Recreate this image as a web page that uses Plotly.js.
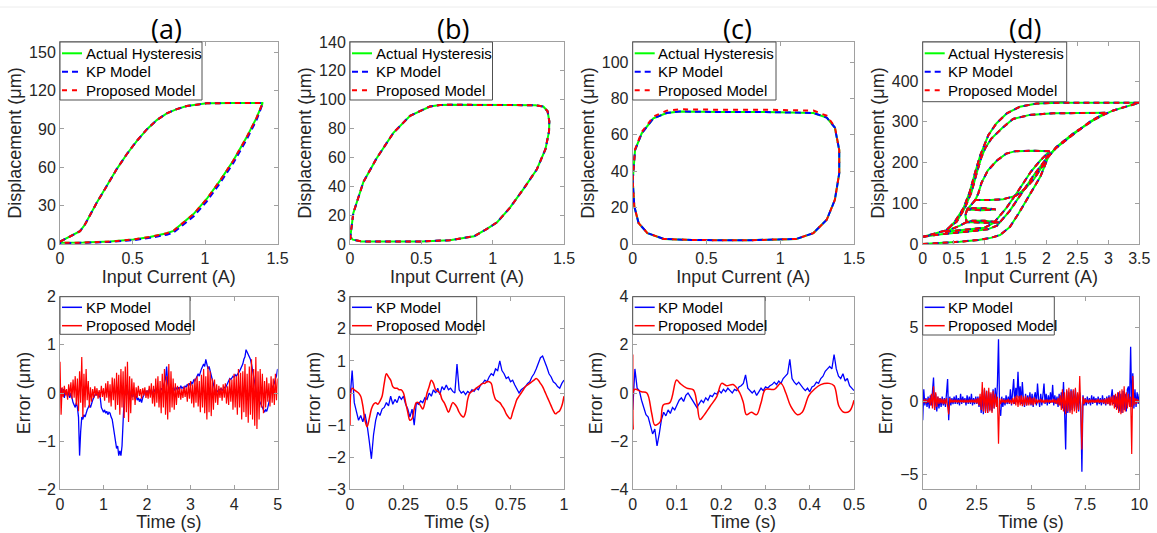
<!DOCTYPE html>
<html><head><meta charset="utf-8">
<script src="https://cdn.plot.ly/plotly-3.0.1.min.js"></script>
<style>html,body{margin:0;padding:0;background:#fff}#plot{width:1157px;height:533px}</style>
</head><body><div id="plot"></div>
<script>
// ---------- Panel (a) hysteresis ----------
const aX = [0,0.046,0.103,0.138,0.172,0.207,0.253,0.322,0.39,0.46,0.53,0.6,0.667,0.736,0.805,0.874,0.943,1.01,1.2,1.395,
  1.395,1.356,1.287,1.195,1.103,1.011,0.92,0.839,0.782,0.736,0.62,0.506,0.345,0.161,0];
const aY = [1.8,4.4,7.5,10,15.2,23,32.2,45.3,58.4,70.2,80.7,89.8,96.9,102.2,105.5,107.9,109.2,110,110.3,110.3,
  109.7,99,83.6,65.3,49.6,35.2,23.4,15.5,10.3,8.4,5.5,3.5,1.9,1.1,0.9];
const aKpY = [1.8,4.4,7.5,10,15.2,23,32.2,45.3,58.4,70.2,80.7,89.8,96.9,102.2,105.5,107.9,109.2,110,110.3,110.3,
  109.2,97.3,81.8,63.4,47.6,33.2,21.5,13.8,8.9,7.3,4.8,3.0,1.6,0.9,0.7];
// ---------- Panel (b) hysteresis ----------
const bX = [0.0,0.004,0.023,0.094,0.187,0.304,0.421,0.56,0.63,0.7,1.0,1.215,1.3,1.355,1.385,1.397,1.395,1.37,1.31,1.215,1.12,1.03,0.96,0.87,0.7,0.5,0.28,0.08,0.02,0.0];
const bY = [3,6.6,21.3,43,59.5,77,88.9,95.3,96.3,96.5,96.5,96.5,96.2,95.3,92,85,78,65.7,51.8,38,25,15,10.5,5.4,2.6,1.8,1.6,1.8,3,5];
// ---------- Panel (c) hysteresis ----------
const cX = [0,0.016,0.061,0.14,0.23,0.32,0.6,0.9,1.225,1.315,1.37,1.4,1.4,1.37,1.315,1.225,1.11,0.77,0.4,0.21,0.1,0.04,0.011,0,0];
const cY = [35,51.6,60.8,69,72,72.8,72.5,72.5,72,69.5,64,51.6,38.8,24.2,13.3,6,2.8,2,2.2,2.8,6,11.5,20.6,31,35];
const cPropY = [35,52,61.5,70,73.3,74,73.8,73.8,73.3,70.5,64.5,51.6,38.8,24.2,13.3,6,2.8,2,2.2,2.8,6,11.5,20.6,31,35];
// ---------- Panel (d) hysteresis (segments separated by null) ----------
const dX = [0,0.3,0.6,0.9,1.1,1.25,1.41,1.55,1.68,1.8,1.9,2.03,2.16,2.3,2.43,2.6,2.76,2.92,3.08,3.3,3.5,null,
  3.5,3.48,2.97,2.22,1.84,1.57,1.36,1.19,1.06,0.98,0.93,0.85,0.76,0.66,0.52,0.39,0.17,0.01,null,
  0.01,0.3,0.7,1.05,1.2,1.4,1.6,1.8,2.0,2.15,2.4,2.7,2.95,null,
  2.95,2.65,2.11,1.73,1.46,1.28,1.11,1.01,0.95,0.87,0.79,0.68,0.55,0.41,0.36,null,
  0.36,0.7,1.0,1.15,1.35,1.55,1.75,1.9,2.05,null,
  2.05,1.8,1.5,1.35,1.2,1.05,0.95,0.9,0.85,1.1,1.3,1.5,1.65,1.8,1.95,2.05,null,
  0.85,0.8,0.72,0.95,1.18,1.0,0.8,0.72,0.69,0.71,1.0,1.25,1.0,0.8,0.71,0.6,0.45,0.36];
const dY = [0,2,5.7,10,15,22,42,75,108,138,165,214,238,255,271,288,304,317,328,338,347,null,
  347,347,347,347,345,337,321,296,267,239,218,177,128,88,55,34,24,18,null,
  18,24,30,36,45,80,125,170,210,235,265,300,322,null,
  322,322,321,317,307,284,259,235,214,173,128,88,55,38,30,null,
  30,35,40,52,88,132,178,205,228,null,
  228,229,228,222,205,180,150,125,108,108,110,118,135,160,195,228,null,
  108,100,85,83,85,88,88,86,70,54,52,53,57,57,54,45,36,30];

// ---------- Error signals ----------
// (a) sampled every 0.025 s from 0 to 5 s
const errA_kp = [0.0,0.1,-0.05,0.08,-0.1,0.05,0.0,-0.08,0.05,-0.1,0.0,-0.15,-0.2,-0.25,-0.3,-0.2,-0.3,-0.5,-1.3,-0.8,
 -0.5,-0.55,-0.45,-0.5,-0.4,-0.35,-0.3,-0.25,-0.3,-0.2,-0.15,-0.1,-0.05,0.0,-0.05,0.02,-0.05,-0.1,-0.3,-0.35,
 -0.4,-0.35,-0.42,-0.38,-0.45,-0.4,-0.42,-0.5,-0.55,-0.7,-0.9,-1.0,-1.15,-1.1,-1.3,-1.2,-1.3,-1.1,-0.6,-0.1,
 0.05,-0.05,0.08,-0.05,0.05,-0.1,0.0,-0.08,0.05,-0.12,-0.05,-0.15,-0.1,-0.18,-0.12,-0.2,-0.1,-0.05,0.05,-0.02,
 0.05,-0.05,0.08,0.0,0.05,-0.05,0.08,0.02,0.1,0.0,0.08,-0.05,0.05,0.1,0.05,0.15,0.2,0.3,0.55,0.2,
 0.1,0.05,0.12,0.08,0.1,0.05,0.12,0.1,0.05,0.12,0.08,0.15,0.1,0.12,0.08,0.15,0.12,0.18,0.15,0.2,
 0.15,0.22,0.2,0.28,0.25,0.3,0.35,0.4,0.35,0.45,0.5,0.55,0.6,0.55,0.7,0.6,0.5,0.55,0.45,0.4,
 0.3,0.15,0.05,0.0,0.05,0.02,0.08,0.05,0.1,0.05,0.08,0.12,0.1,0.15,0.2,0.25,0.3,0.28,0.32,0.35,
 0.33,0.38,0.35,0.4,0.42,0.45,0.5,0.55,0.6,0.7,0.75,0.9,0.85,0.8,0.75,0.7,0.6,0.45,0.3,0.15,
 0.05,-0.05,-0.1,-0.15,-0.2,-0.25,-0.3,-0.35,-0.4,-0.35,-0.38,-0.3,-0.2,-0.1,0.05,0.1,0.15,0.2,0.3,0.35,0.5];
const errA_prop = [0.65,-0.45,0.12,-0.08,0.15,-0.05,0.08,-0.14,0.18,-0.06,0.22,-0.12,0.28,-0.1,0.35,-0.25,0.3,-0.38,0.45,-0.2,
 0.75,-0.5,0.4,-0.3,0.5,-0.15,0.25,-0.3,0.12,-0.18,0.08,-0.1,0.14,-0.06,0.1,-0.12,0.06,-0.1,0.15,-0.08,
 0.1,-0.16,0.2,-0.1,0.25,-0.2,0.18,-0.28,0.32,-0.15,0.3,-0.35,0.42,-0.25,0.38,-0.45,0.5,-0.3,0.45,-0.52,
 0.55,-0.4,0.65,-0.6,0.35,-0.42,0.3,-0.15,0.22,-0.25,0.12,-0.1,0.15,-0.06,0.08,-0.12,0.1,-0.05,0.12,-0.1,
 0.06,-0.12,0.15,-0.1,0.2,-0.22,0.15,-0.28,0.3,-0.2,0.35,-0.3,0.25,-0.42,0.4,-0.3,0.5,-0.45,0.35,-0.55,
 0.6,-0.4,0.45,-0.3,0.3,-0.35,0.2,-0.25,0.15,-0.1,0.12,-0.14,0.08,-0.1,0.14,-0.08,0.12,-0.18,0.2,-0.12,
 0.25,-0.22,0.18,-0.3,0.3,-0.2,0.35,-0.28,0.25,-0.4,0.38,-0.3,0.5,-0.42,0.35,-0.55,0.55,-0.4,0.45,-0.48,
 0.3,-0.35,0.28,-0.2,0.18,-0.25,0.15,-0.1,0.12,-0.16,0.18,-0.1,0.2,-0.22,0.14,-0.25,0.3,-0.18,0.28,-0.35,
 0.4,-0.3,0.35,-0.45,0.5,-0.3,0.42,-0.55,0.45,-0.4,0.6,-0.5,0.4,-0.62,0.55,-0.45,0.7,-0.55,0.5,-0.68,
 0.75,-0.75,0.45,-0.55,0.5,-0.3,0.4,-0.42,0.25,-0.3,0.32,-0.18,0.2,-0.28,0.35,-0.2,0.3,-0.25,0.4,-0.15,0.3];
// (b) sampled every 0.01 s from 0 to 1 s
const errB_kp = [-0.2,0.7,-0.3,-0.6,-0.85,-0.7,-0.9,-0.65,-1.0,-1.5,-2.05,-1.3,-0.85,-0.6,-0.7,-0.5,-0.45,-0.3,-0.4,-0.1,
 -0.35,-0.2,-0.3,-0.1,-0.2,-0.1,-0.35,-0.5,-0.75,-0.5,-1.0,-0.3,-0.35,-0.25,-0.3,-0.15,-0.2,0.0,-0.1,0.1,
 0.0,0.15,-0.05,0.2,0.1,0.25,0.1,0.15,0.05,0.0,0.9,0.1,0.0,0.05,-0.05,0.05,0.0,0.1,0.05,0.15,
 0.1,0.25,0.3,0.4,0.35,0.5,0.6,0.55,0.75,0.7,1.0,0.7,0.6,0.45,0.5,0.35,0.4,0.25,0.1,0.0,
 0.1,0.15,0.2,0.3,0.35,0.5,0.6,0.75,0.95,1.1,1.15,1.0,0.8,0.6,0.5,0.35,0.3,0.2,0.15,0.3,0.4];
const errB_prop = [-1.0,0.15,0.1,0.05,0.0,-0.1,-0.4,-0.85,-1.05,-0.8,-0.5,-0.35,-0.3,-0.35,-0.25,-0.1,0.3,0.6,0.5,0.4,
 0.2,0.15,0.15,0.1,0.1,0.0,-0.3,-0.6,-0.85,-0.8,-0.5,-0.3,-0.3,-0.4,-0.5,-0.3,0.0,0.2,0.4,0.3,
 0.1,0.05,0.0,-0.2,-0.3,-0.45,-0.6,-0.45,-0.3,-0.35,-0.45,-0.6,-0.7,-0.75,-0.6,-0.2,0.0,0.05,0.1,0.15,
 0.2,0.25,0.3,0.3,0.35,0.35,0.3,0.0,-0.2,-0.25,-0.3,-0.4,-0.5,-0.65,-0.75,-0.8,-0.6,-0.4,-0.2,-0.1,
 0.0,0.1,0.2,0.25,0.3,0.35,0.4,0.45,0.4,0.3,0.2,0.05,-0.1,-0.25,-0.4,-0.55,-0.65,-0.6,-0.55,-0.4,-0.1];
// (c) KP sampled every 0.005 s; proposed read at points
const errC_kp = [-0.7,1.0,0.2,0.1,-0.3,-0.6,-0.9,-1.0,-1.3,-1.7,-1.5,-2.2,-1.7,-1.1,-0.8,-0.95,-0.7,-0.85,-0.6,-0.7,
 -0.5,-0.3,-0.2,-0.35,-0.1,0.0,-0.15,-0.3,-0.5,-0.6,-0.45,-0.3,-0.4,-0.2,-0.3,-0.1,-0.15,0.0,-0.05,0.1,
 0.0,0.15,0.05,0.2,0.1,0.0,0.15,0.1,0.25,0.3,0.4,0.75,0.2,0.1,0.0,0.1,-0.1,0.05,0.2,0.1,
 0.25,0.2,0.3,0.35,0.45,0.35,0.5,0.4,0.6,0.7,0.8,1.4,0.6,0.45,0.35,0.45,0.3,0.2,0.1,0.2,
 0.05,0.25,0.3,0.45,0.4,0.6,0.7,0.9,1.0,1.1,1.0,1.6,1.0,0.7,0.6,0.8,0.5,0.6,0.3,0.2,0.1];
const tC_prop = [0,0.001,0.004,0.02,0.032,0.043,0.05,0.062,0.069,0.084,0.099,0.107,0.122,0.137,0.145,0.152,0.16,0.175,0.19,0.201,0.212,0.227,0.242,0.25,0.257,0.268,0.28,0.29,0.3,0.32,0.335,0.346,0.357,0.372,0.383,0.398,0.41,0.425,0.444,0.455,0.466,0.477,0.49,0.5];
const errC_prop = [1.6,-1.5,0.15,0.05,0.0,-0.85,-1.33,-1.2,-0.5,-0.4,0.54,0.4,0.2,0.13,-0.4,-1.1,-0.95,-0.55,-0.15,0.4,0.3,0.35,0.0,-0.4,-0.9,-0.8,-0.9,-0.4,0.15,0.15,0.4,0.0,-0.55,-0.9,-0.8,-0.1,0.15,0.35,0.4,0.3,-0.55,-0.8,-0.75,-0.3];
// (d) sampled every 0.05 s from 0 to 10 s
const errD_kp = [-1.3,0.8,-0.3,0.2,-0.4,0.3,-0.5,0.4,-0.3,0.9,1.6,-0.6,0.5,-0.7,0.3,-0.5,0.2,-0.4,0.3,-0.3,
 0.2,-0.4,0.5,1.5,-1.3,0.3,-0.3,0.2,-0.2,0.3,-0.2,0.4,-0.2,0.2,-0.3,0.5,-0.2,0.3,-0.1,0.2,
 -0.3,0.4,-0.2,0.3,-0.2,0.5,-0.3,0.2,-0.2,0.3,-0.2,0.3,-0.4,0.3,-0.8,0.6,-0.9,0.8,-0.7,0.7,
 -0.8,0.6,-0.6,0.5,-0.7,0.8,-0.5,0.9,-0.3,1.2,4.2,-0.6,-1.0,0.3,-0.4,0.2,-0.3,0.4,-0.2,0.3,
 -0.2,0.8,-0.3,0.6,1.5,-0.2,0.9,0.3,2.0,0.2,1.0,-0.2,1.3,0.1,-0.4,0.5,-0.3,0.4,-0.2,0.6,
 -0.3,0.5,-0.4,0.3,0.6,-0.3,1.2,0.2,-0.4,0.5,-0.3,0.4,1.2,-0.2,0.5,-0.3,0.4,-0.2,0.6,-0.1,
 1.1,-0.3,0.4,-0.2,0.3,-0.4,0.5,-0.3,0.6,-0.5,1.3,-0.6,-3.3,0.7,-0.8,0.6,-0.7,0.8,-0.6,0.7,
 -0.5,0.8,-0.6,0.5,-0.7,0.6,-0.4,-4.8,0.4,-0.3,0.2,-0.3,0.3,-0.2,0.2,-0.3,0.4,-0.2,0.3,-0.1,
 0.2,-0.3,0.3,-0.2,0.2,-0.3,0.4,-0.2,0.2,-0.3,0.3,-0.2,0.4,-0.3,0.3,0.8,-0.2,0.4,-0.4,0.3,
 -0.5,0.6,-0.7,0.5,-0.8,0.7,-0.6,0.5,-0.7,0.8,1.0,-0.3,3.7,-0.4,1.9,-0.5,0.8,-0.4,0.6,-0.2,0.5];
const errD_prop = [0.1,-0.1,0.15,-0.15,0.1,-0.1,0.2,-0.3,0.5,-0.5,1.0,-0.6,0.6,-0.4,0.3,-0.2,0.2,-0.15,0.15,-0.2,
 0.15,-0.2,0.2,-0.5,-0.9,0.2,-0.1,0.1,-0.1,0.1,-0.08,0.1,-0.1,0.08,-0.1,0.1,-0.08,0.1,-0.1,0.1,
 -0.1,0.08,-0.1,0.1,-0.1,0.12,-0.1,0.1,-0.12,0.15,-0.15,0.2,-0.3,0.5,-0.6,1.3,-0.7,0.9,-0.8,0.7,
 -0.8,0.9,-0.7,0.6,-0.8,0.7,-0.5,0.5,-0.4,0.3,-2.9,0.2,-0.2,0.15,-0.1,0.1,-0.15,0.1,-0.1,0.15,
 -0.15,0.1,-0.2,0.2,-0.2,0.3,-0.3,0.4,-0.4,0.35,-0.3,0.4,-0.35,0.3,-0.3,0.35,-0.3,0.25,-0.3,0.3,
 -0.25,0.2,-0.3,0.25,-0.2,0.15,-0.15,0.1,-0.1,0.15,-0.1,0.1,-0.15,0.1,-0.1,0.12,-0.1,0.1,-0.12,0.1,
 -0.1,0.15,-0.15,0.1,-0.2,0.2,-0.3,0.4,-0.6,0.8,-0.7,0.6,-0.9,0.8,-0.7,0.9,-0.8,0.7,-0.9,0.8,
 -0.7,0.9,-0.8,0.6,-0.6,1.7,-0.5,-3.3,0.3,-0.2,0.15,-0.1,0.1,-0.15,0.1,-0.1,0.12,-0.1,0.1,-0.12,
 0.1,-0.1,0.15,-0.12,0.1,-0.1,0.12,-0.15,0.15,-0.2,0.2,-0.2,0.25,-0.3,0.3,-0.3,0.4,-0.5,0.5,-0.6,
 0.6,-0.8,0.7,-0.9,0.8,-0.8,1.0,-0.7,0.6,-0.5,0.5,-0.4,0.3,-3.6,1.7,-0.3,0.2,-0.2,0.15,-0.1,0.1];

// ---------- Labels ----------
const panelLabels = ['(a)','(b)','(c)','(d)'];
const hystNames = ['Actual Hysteresis','KP Model','Proposed Model'];
const errNames = ['KP Model','Proposed Model'];

// ---------- Layout helpers ----------
const W = 1157, H = 533;
const cols = [[60,277.6],[350,564],[632.7,854],[922.7,1139.3]];
const rowTop = [42,244], rowBot = [296.7,489.3];
const labelCx = [166,453,737,1025];
const fx = p => p / W, fy = p => 1 - p / H;

const GREEN = '#00ff00', BLUE = '#0000ff', RED = '#ff0000';
const styles = {
  act: {color: GREEN, width: 2},
  kp: {color: BLUE, width: 2, dash: '6px,4px'},
  prop: {color: RED, width: 2, dash: '5px,5px'},
  kpErr: {color: BLUE, width: 1.3},
  propErr: {color: RED, width: 1.2}
};
const traces = [];
function hyst(i, x, yAct, yKp, yProp) {
  const xa = 'x' + (i + 1), ya = 'y' + (i + 1);
  traces.push({x: x, y: yAct, xaxis: xa, yaxis: ya, name: hystNames[0], mode: 'lines', line: styles.act});
  traces.push({x: x, y: yKp, xaxis: xa, yaxis: ya, name: hystNames[1], mode: 'lines', line: styles.kp});
  traces.push({x: x, y: yProp, xaxis: xa, yaxis: ya, name: hystNames[2], mode: 'lines', line: styles.prop});
}
hyst(0, aX, aY, aKpY, aY);
hyst(1, bX, bY, bY, bY);
hyst(2, cX, cY, cY, cPropY);
hyst(3, dX, dY, dY, dY);

function errT(i, kp, kpOpts, prop, propOpts) {
  const n = i + 5, xa = 'x' + n, ya = 'y' + n;
  traces.push(Object.assign({y: kp, xaxis: xa, yaxis: ya, name: errNames[0], mode: 'lines', line: styles.kpErr}, kpOpts));
  traces.push(Object.assign({y: prop, xaxis: xa, yaxis: ya, name: errNames[1], mode: 'lines', line: styles.propErr}, propOpts));
}
errT(0, errA_kp, {x0: 0, dx: 0.025}, errA_prop, {x0: 0, dx: 0.025});
errT(1, errB_kp, {x0: 0, dx: 0.01}, errB_prop, {x0: 0, dx: 0.01, line: {color: RED, width: 1.5, shape: 'spline'}});
errT(2, errC_kp, {x0: 0, dx: 0.005}, errC_prop, {x: tC_prop, line: {color: RED, width: 1.5, shape: 'spline'}});
errT(3, errD_kp, {x0: 0, dx: 0.05}, errD_prop, {x0: 0, dx: 0.05});

const FONT = 'Liberation Sans, Arial, sans-serif';
const tickFont = {family: FONT, size: 16, color: '#262626'};
const titleFont = {family: FONT, size: 18, color: '#262626'};
const base = {showline: true, linecolor: '#a0a0a0', linewidth: 1, mirror: 'ticks', ticks: 'inside', ticklen: 4,
  tickcolor: '#a0a0a0', showgrid: false, zeroline: false, tickfont: tickFont, fixedrange: true};

const xRanges = [[0,1.5],[0,1.5],[0,1.5],[0,3.5],[0,5],[0,1],[0,0.5],[0,10]];
const xDt = [0.5,0.5,0.5,0.5,1,0.25,0.1,2.5];
const yRanges = [[0,158],[0,140],[0,111],[0,496],[-2,2],[-3,3],[-4,4],[-6,7.1]];
const yDt = [30,20,20,100,1,1,2,5];

const layout = {width: W, height: H, margin: {l: 0, r: 0, t: 0, b: 0}, paper_bgcolor: '#fff', plot_bgcolor: '#fff',
  showlegend: false, annotations: [], shapes: [
    {type: 'line', xref: 'paper', yref: 'paper', x0: 0, x1: 1, y0: fy(7), y1: fy(7), line: {color: '#ececec', width: 1}}
  ]};

for (let k = 0; k < 8; k++) {
  const c = cols[k % 4], r = k < 4 ? rowTop : rowBot, n = k + 1;
  layout['xaxis' + n] = Object.assign({}, base, {domain: [fx(c[0]), fx(c[1])], anchor: 'y' + n, range: xRanges[k], tick0: 0, dtick: xDt[k],
    title: {text: k < 4 ? 'Input Current (A)' : 'Time (s)', font: titleFont, standoff: 0}});
  layout['yaxis' + n] = Object.assign({}, base, {domain: [fy(r[1]), fy(r[0])], anchor: 'x' + n, range: yRanges[k], tick0: 0, dtick: yDt[k],
    title: {text: k < 4 ? 'Displacement (μm)' : 'Error (μm)', font: titleFont, standoff: 2}});
}
for (let i = 0; i < 4; i++) {
  layout.annotations.push({text: panelLabels[i], xref: 'paper', yref: 'paper', x: fx(labelCx[i]), y: fy(29),
    xanchor: 'center', yanchor: 'middle', showarrow: false, font: {family: 'Open Sans, sans-serif', size: 27, color: '#000'}});
}

// ---------- Legends (MATLAB-style boxes, drawn above the data) ----------
const legTopRight = [202, 492.5, 776, 1066.7], legTopBottom = [100, 100, 100, 101.7];
const legBotRight = [190, 476.7, 765, 1054.3], legBotBottom = [334.3, 334.3, 334.3, 335];
const legTopRows = [53.3, 71.7, 90.3], legBotRows = [307.3, 325.7];
function legend(left, top, right, bottom, rows, names, lineStyles) {
  layout.shapes.push({type: 'rect', xref: 'paper', yref: 'paper', layer: 'above', x0: fx(left), x1: fx(right), y0: fy(bottom), y1: fy(top),
    fillcolor: '#ffffff', line: {color: '#505050', width: 1}});
  rows.forEach((ry, j) => {
    const ls = lineStyles[j];
    layout.shapes.push({type: 'line', xref: 'paper', yref: 'paper', layer: 'above', x0: fx(left + 2), x1: fx(left + 22), y0: fy(ry), y1: fy(ry),
      line: {color: ls.color, width: ls.width > 1.5 ? ls.width : 1.5, dash: ls.dash || 'solid'}});
    layout.annotations.push({text: names[j], xref: 'paper', yref: 'paper', x: fx(left + 23.5), y: fy(ry), xanchor: 'left', yanchor: 'middle',
      showarrow: false, font: {family: FONT, size: 15, color: '#000'}});
  });
}
for (let i = 0; i < 4; i++) {
  legend(cols[i][0], rowTop[0], legTopRight[i], legTopBottom[i], legTopRows, hystNames, [styles.act, styles.kp, styles.prop]);
  legend(cols[i][0], rowBot[0], legBotRight[i], legBotBottom[i], legBotRows, errNames, [styles.kpErr, styles.propErr]);
}

Plotly.newPlot('plot', traces, layout, {staticPlot: true, displayModeBar: false});
</script></body></html>
